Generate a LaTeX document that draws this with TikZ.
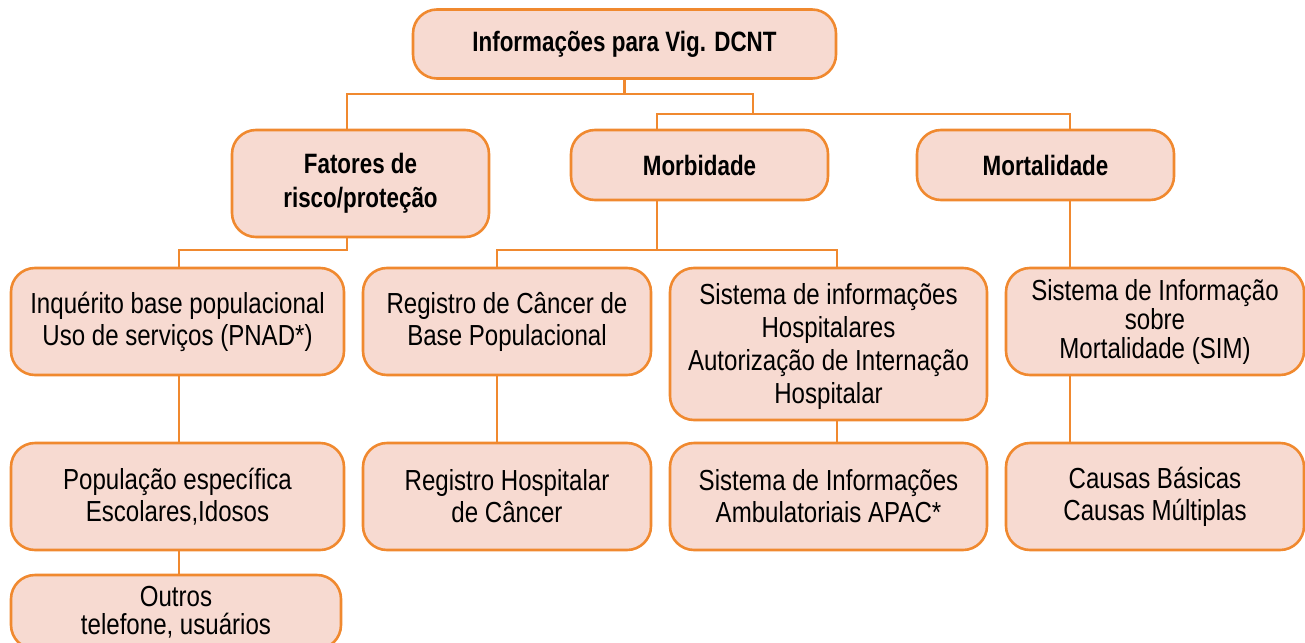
\documentclass[tikz,border=0pt]{standalone}
\usepackage{fontspec}
\setmainfont{Liberation Sans}[FakeStretch=0.83, BoldFeatures={FakeStretch=0.8}]
\definecolor{boxfill}{HTML}{F7DAD1}
\definecolor{boxline}{HTML}{F0892F}
\tikzset{
  box/.style={draw=boxline, line width=2.6pt, fill=boxfill, rounded corners=24pt,
    align=center, inner sep=0pt, font=\fontsize{29}{32}\selectfont},
  hbox/.style={box, font=\fontsize{28}{34}\selectfont\bfseries},
  conn/.style={draw=boxline, line width=2.7pt},
}
\begin{document}
\begin{tikzpicture}[x=1pt,y=-1pt]
\useasboundingbox (0,0) rectangle (1305,642);
\clip (0,0) rectangle (1305,642);
% nodes
\node[hbox, minimum width=423pt, minimum height=69pt] (top) at (624.5,44) {Informações para Vig. DCNT};
\node[hbox, minimum width=257pt, minimum height=107pt] (fat) at (360.5,183.5) {Fatores de\\risco/proteção};
\node[hbox, minimum width=257pt, minimum height=70pt] (mor) at (699.5,165) {Morbidade};
\node[hbox, minimum width=257pt, minimum height=70pt] (mrt) at (1045.5,165) {Mortalidade};
\node[box, minimum width=333pt, minimum height=107pt] (inq) at (177.5,321.5) {Inquérito base populacional\\Uso de serviços (PNAD*)};
\node[box, minimum width=288pt, minimum height=107pt] (rcb) at (507,321.5) {Registro de Câncer de\\Base Populacional};
\node[box, minimum width=317pt, minimum height=152pt, font=\fontsize{29}{33}\selectfont] (sih) at (828.5,344) {\rule{0pt}{26pt}Sistema de informações\\Hospitalares\\Autorização de Internação\\Hospitalar};
\node[box, minimum width=298pt, minimum height=107pt, font=\fontsize{29}{29}\selectfont] (sim) at (1155,321.5) {Sistema de Informação\\sobre\\Mortalidade (SIM)};
\node[box, minimum width=333pt, minimum height=107pt] (pop) at (177.5,496.5) {População específica\\Escolares,Idosos};
\node[box, minimum width=288pt, minimum height=107pt] (rhc) at (507,496.5) {Registro Hospitalar\\de Câncer};
\node[box, minimum width=317pt, minimum height=107pt] (sia) at (828.5,496.5) {Sistema de Informações\\Ambulatoriais APAC*};
\node[box, minimum width=298pt, minimum height=107pt] (cau) at (1155,496.5) {Causas Básicas\\Causas Múltiplas};
\node[box, minimum width=330pt, minimum height=74pt, font=\fontsize{29}{28}\selectfont] (out) at (176,612) {Outros\\telefone, usuários};
% junctions
\coordinate (jT) at (625,94);
\coordinate (jTL) at (347,94);
\coordinate (jTR) at (753,94);
\coordinate (jM) at (753,114);
\coordinate (jML) at (657,114);
\coordinate (jMR) at (1070,114);
\coordinate (jF) at (347,250);
\coordinate (jFL) at (179,250);
\coordinate (jB) at (657,250);
\coordinate (jBL) at (497,250);
\coordinate (jBR) at (837,250);
% connectors
\draw[conn] (top.south) -- (top.south |- jT);
\draw[conn] (fat.north -| jTL) -- (jTL) -- (jTR) -- (jM);
\draw[conn] (mor.north -| jML) -- (jML) -- (jMR) -- (mrt.north -| jMR);
\draw[conn] (fat.south -| jF) -- (jF) -- (jFL) -- (inq.north -| jFL);
\draw[conn] (mor.south -| jB) -- (jB);
\draw[conn] (rcb.north -| jBL) -- (jBL) -- (jBR) -- (sih.north -| jBR);
\draw[conn] (mrt.south -| jMR) -- (sim.north -| jMR);
\draw[conn] (inq.south -| jFL) -- (pop.north -| jFL);
\draw[conn] (pop.south -| jFL) -- (out.north -| jFL);
\draw[conn] (rcb.south -| jBL) -- (rhc.north -| jBL);
\draw[conn] (sih.south -| jBR) -- (sia.north -| jBR);
\draw[conn] (sim.south -| jMR) -- (cau.north -| jMR);
\end{tikzpicture}
\end{document}
